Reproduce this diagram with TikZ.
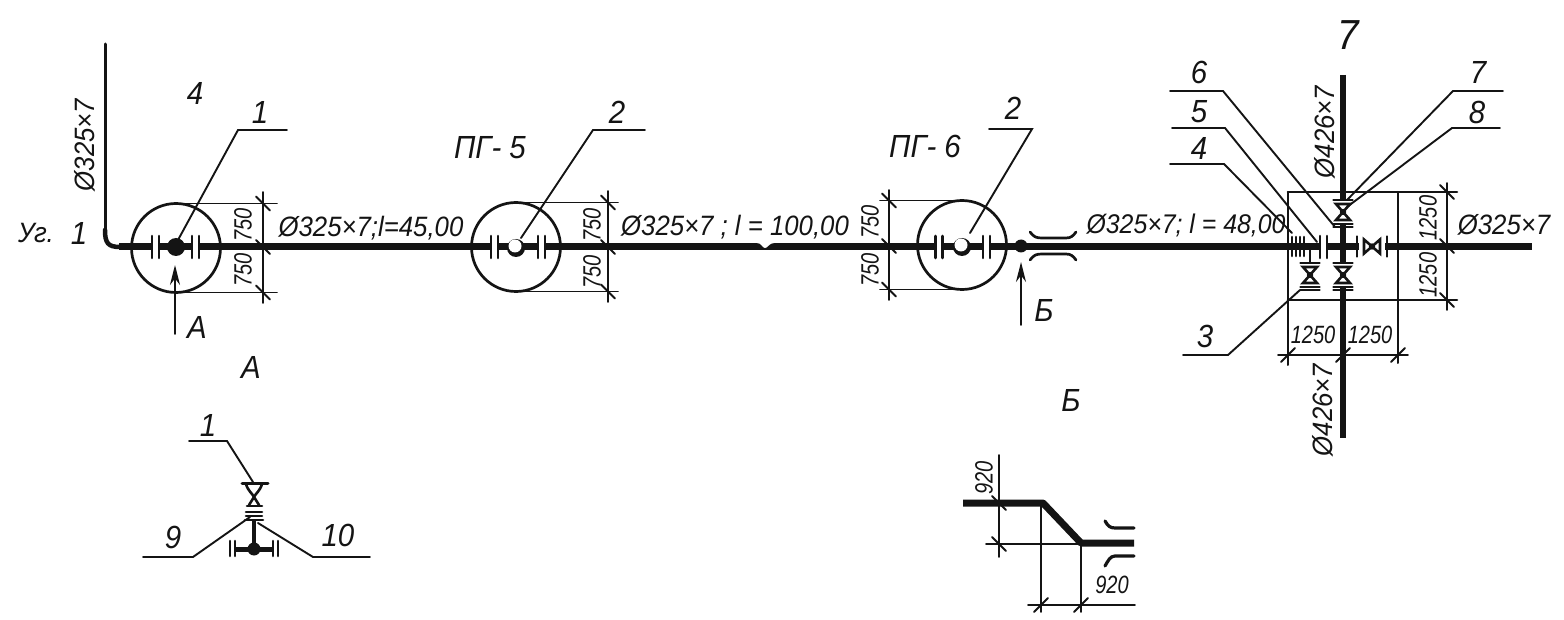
\documentclass[tikz,border=0pt]{standalone}
\usepackage{fontspec}
\setmainfont{Liberation Sans}[FakeStretch=0.92]
\newfontfamily\dimfont{Liberation Sans}[FakeStretch=0.8]
\usetikzlibrary{arrows.meta}
\definecolor{ink}{HTML}{141414}
\tikzset{
  thinln/.style={draw=ink,line width=1.8pt},
  leader/.style={draw=ink,line width=1.9pt,line join=miter},
  ring/.style={draw=ink,line width=2.7pt},
  pipe/.style={draw=ink,line width=7pt},
  barln/.style={draw=ink,line width=2.6pt},
  arrowln/.style={draw=ink,line width=1.8pt,-{Stealth[length=20pt,width=10pt]}},
  lab/.style={font=\fontsize{28}{28}\selectfont\itshape,text=ink,inner sep=0pt},
  seglab/.style={font=\fontsize{27}{27}\selectfont\itshape,text=ink,inner sep=0pt},
  numlab/.style={font=\fontsize{32}{32}\selectfont\itshape,text=ink,inner sep=0pt},
  big/.style={font=\fontsize{42}{42}\selectfont\itshape,text=ink,inner sep=0pt},
  smalllab/.style={font=\dimfont\fontsize{25}{25}\selectfont\itshape,text=ink,inner sep=0pt},
  pics/tickv/.style={code={\draw[thinln] (-7,-7)--(7,7);}},
  pics/tickh/.style={code={\draw[thinln] (-7,7)--(7,-7);}},
  pics/flangeh/.style={code={
    \fill[white] (-3.5,-5)rectangle(3.5,5);
    \draw[barln] (-3.5,-11)--(-3.5,11) (3.5,-11)--(3.5,11);}},
  pics/valvev/.style={code={
    \fill[white] (-9,-12)rectangle(9,12);
    \draw[barln,fill=white] (-7,-8)--(7,-8)--(-7,8)--(7,8)--cycle;
    \fill[ink] (0,0) circle (3.2);
    \draw[barln] (-9.5,-12)--(9.5,-12) (-9.5,12)--(9.5,12) (-9.5,15)--(9.5,15);}},
  pics/valveh/.style={code={
    \fill[white] (-13,-5)rectangle(13,5);
    \draw[barln,fill=white] (-8,-7)--(-8,7)--(8,-7)--(8,7)--cycle;
    \fill[ink] (0,0) circle (3.2);
    \draw[barln] (-15,-10)--(-15,10) (15,-10)--(15,10);}},
}
\begin{document}
\begin{tikzpicture}[x=1pt,y=-1pt,line cap=round]
\useasboundingbox (0,0) rectangle (1564,620);
\fill[white] (0,0) rectangle (1564,620);

% main pipeline
\draw[draw=ink,line width=3pt] (105,44)--(105,230);
\draw[draw=ink,line width=4.5pt] (105,230) .. controls (105,243) and (108,247) .. (120,247);
\draw[pipe,line cap=butt] (119,247)--(1532,247);
\fill[white] (757,243) .. controls (762,243) and (762,248) .. (765,248) .. controls (768,248) and (769,243) .. (774,243) -- cycle;

% circle 1 with dimensions
\draw[ring] (176,248) circle (44.5);
\draw[thinln] (176,203.5)--(277,203.5) (176,292.5)--(277,292.5) (263,192)--(263,303);
\pic at (263,203.5) {tickv}; \pic at (263,247) {tickv}; \pic at (263,292.5) {tickv};
\pic at (155.5,247) {flangeh}; \pic at (195.5,247) {flangeh};
\fill[ink] (176,247) circle (9);
\coordinate (l1a) at (178,240); \coordinate (l1b) at (238,130); \coordinate (l1c) at (287,130);
\draw[leader] (l1a)--(l1b)--(l1c);
\coordinate (arA0) at (175,334); \coordinate (arA1) at (175,265);
\draw[arrowln] (arA0)--(arA1);

% circle 2
\draw[ring] (516,247) circle (44.5);
\draw[thinln] (516,202.5)--(618,202.5) (516,291.5)--(618,291.5) (608,191)--(608,302);
\pic at (608,202.5) {tickv}; \pic at (608,247) {tickv}; \pic at (608,291.5) {tickv};
\pic at (494.5,247) {flangeh}; \pic at (541.5,247) {flangeh};
\fill[ink] (516,248) circle (9);
\fill[white] (515,246) circle (6.5);
\coordinate (l2a) at (521,238); \coordinate (l2b) at (593,130); \coordinate (l2c) at (645,130);
\draw[leader] (l2a)--(l2b)--(l2c);

% circle 3
\draw[ring] (962,245) circle (44.5);
\draw[thinln] (962,200.5)--(880,200.5) (962,289.5)--(880,289.5) (889,190)--(889,300);
\pic at (889,200.5) {tickv}; \pic at (889,246) {tickv}; \pic at (889,289.5) {tickv};
\pic at (939,247) {flangeh}; \pic at (986.5,247) {flangeh};
\fill[ink] (962,247) circle (9);
\fill[white] (961,245) circle (6.5);
\coordinate (l3a) at (970,233); \coordinate (l3b) at (1032,129); \coordinate (l3c) at (989,129);
\draw[leader] (l3a)--(l3b)--(l3c);
\fill[ink] (1021,246) circle (6.5);
\draw[ring] (1030,232) .. controls (1034,237) and (1036,238) .. (1042,238) -- (1066,238) .. controls (1071,238) and (1073,236) .. (1076,232);
\draw[ring] (1030,260) .. controls (1034,255) and (1036,254) .. (1042,254) -- (1066,254) .. controls (1071,254) and (1073,256) .. (1076,260);
\coordinate (arB0) at (1021,325); \coordinate (arB1) at (1021,262);
\draw[arrowln] (arB0)--(arB1);

% node 7: dimensions
\draw[barln] (1288,192)--(1457,192) (1288,300)--(1457,300);
\draw[thinln,line width=2pt] (1288,192)--(1288,365) (1398,192)--(1398,363);
\draw[thinln] (1447,183)--(1447,310) (1278,355)--(1408,355);
\pic at (1447,192) {tickv}; \pic at (1447,246) {tickv}; \pic at (1447,300) {tickv};
\pic at (1288,355) {tickh}; \pic at (1343,355) {tickh}; \pic at (1398,355) {tickh};

% node 7: pipes and valves
\draw[draw=ink,line width=5.7pt,line cap=butt] (1343,75)--(1343,438);
\pic at (1343,212) {valvev};
\pic at (1343,275) {valvev};
\pic at (1372,246.5) {valveh};
\pic at (1323.5,247) {flangeh};
\draw[thinln] (1310,247)--(1310,262);
\pic at (1310,275) {valvev};
\draw[barln] (1292,237)--(1292,256) (1296,237)--(1296,256) (1300,237)--(1300,256) (1304,237)--(1304,256);

% node 7: leaders
\coordinate (l6a) at (1170,91); \coordinate (l6b) at (1223,91); \coordinate (l6c) at (1335,227);
\coordinate (l5a) at (1172,128); \coordinate (l5b) at (1225,128); \coordinate (l5c) at (1317,242);
\coordinate (l4a) at (1170,164); \coordinate (l4b) at (1224,164); \coordinate (l4c) at (1292,233);
\coordinate (l7a) at (1503,91); \coordinate (l7b) at (1453,91); \coordinate (l7c) at (1347,200);
\coordinate (l8a) at (1500,128); \coordinate (l8b) at (1452,128); \coordinate (l8c) at (1347,207);
\coordinate (l3xa) at (1183,355); \coordinate (l3xb) at (1228,355); \coordinate (l3xc) at (1300,290);
\draw[leader] (l6a)--(l6b)--(l6c);
\draw[leader] (l5a)--(l5b)--(l5c);
\draw[leader] (l4a)--(l4b)--(l4c);
\draw[leader] (l7a)--(l7b)--(l7c);
\draw[leader] (l8a)--(l8b)--(l8c);
\draw[leader] (l3xa)--(l3xb)--(l3xc);

% detail A
\draw[draw=ink,line width=3.5pt,line cap=butt] (254,519)--(254,549);
\draw[draw=ink,line width=5pt,line cap=butt] (235,549)--(273,549);
\fill[ink] (254,549) circle (6.5);
\draw[barln] (230,541)--(230,556) (235,541)--(235,556) (273,541)--(273,556) (278,541)--(278,556);
\draw[draw=ink,line width=3pt] (242,483)--(268,483);
\draw[barln] (246,484) .. controls (248,491) and (252,493) .. (254,497) .. controls (256,493) and (260,491) .. (262,484);
\draw[barln] (249,505)--(254,497)--(259,505);
\draw[barln] (247,506)--(262,506) (246,512)--(262,512) (246,516)--(262,516) (245,520)--(263,520);
\coordinate (lAa) at (189,441); \coordinate (lAb) at (227,441); \coordinate (lAc) at (253,482);
\coordinate (l9a) at (143,557); \coordinate (l9b) at (193,557); \coordinate (l9c) at (250,517);
\coordinate (l10a) at (370,557); \coordinate (l10b) at (313,557); \coordinate (l10c) at (258,523);
\draw[leader] (lAa)--(lAb)--(lAc);
\draw[leader] (l9a)--(l9b)--(l9c);
\draw[leader] (l10a)--(l10b)--(l10c);

% detail B
\draw[pipe,line join=round,line cap=butt] (963,503)--(1043,503)--(1081,543)--(1134,543);
\draw[thinln] (999,455)--(999,557) (986,544)--(1081,544) (1041,503)--(1041,612) (1081,543)--(1081,612) (1028,605)--(1135,605);
\pic at (999,503) {tickv}; \pic at (999,544) {tickv};
\pic at (1041,605) {tickh}; \pic at (1081,605) {tickh};
\draw[draw=ink,line width=3.2pt] (1105,521) .. controls (1108,526) and (1110,528) .. (1115,528) -- (1134,528);
\draw[draw=ink,line width=3.2pt] (1105,566) .. controls (1108,561) and (1110,556) .. (1115,556) -- (1134,556);

% texts
\node[lab] (tUg) at (36,233) {Уг.};
\node[numlab] (tOne) at (79,233) {1};
\node[lab,rotate=90] (tPipeV) at (85,145) {Ø325×7};
\node[numlab] (tFour) at (195,93) {4};
\node[numlab] (tL1) at (260,112) {1};
\node[smalllab,rotate=90] (d1a) at (243,225) {750};
\node[smalllab,rotate=90] (d1b) at (243,270) {750};
\node[lab] (tSeg1) at (371,228) {Ø325×7;l=45,00};
\node[numlab] (tA1) at (197,327) {А};
\node[numlab] (tA2) at (251,367) {А};
\node[numlab] (tPG5) at (490,148) {ПГ- 5};
\node[numlab] (tL2) at (617,112) {2};
\node[smalllab,rotate=90] (d2a) at (592,225) {750};
\node[smalllab,rotate=90] (d2b) at (592,272) {750};
\node[lab] (tSeg2) at (735,227) {Ø325×7 ; l = 100,00};
\node[numlab] (tPG6) at (925,146) {ПГ- 6};
\node[numlab] (tL3) at (1013,108) {2};
\node[smalllab,rotate=90] (d3a) at (870,222) {750};
\node[smalllab,rotate=90] (d3b) at (870,270) {750};
\node[numlab] (tB1) at (1044,310) {Б};
\node[numlab] (tB2) at (1071,400) {Б};
\node[seglab] (tSeg3) at (1186,225) {Ø325×7; l = 48,00};
\node[lab] (tEnd) at (1504,225) {Ø325×7};
\node[big] (tSeven) at (1348,35) {7};
\node[numlab] (tN6) at (1199,72) {6};
\node[numlab] (tN5) at (1199,112) {5};
\node[numlab] (tN4) at (1199,148) {4};
\node[numlab] (tN7) at (1478,72) {7};
\node[numlab] (tN8) at (1477,112) {8};
\node[numlab] (tN3) at (1205,336) {3};
\node[lab,rotate=90] (tV1) at (1325,132) {Ø426×7};
\node[lab,rotate=90] (tV2) at (1323,410) {Ø426×7};
\node[smalllab] (d4a) at (1313,335) {1250};
\node[smalllab] (d4b) at (1370,335) {1250};
\node[smalllab,rotate=90] (d4c) at (1428,218) {1250};
\node[smalllab,rotate=90] (d4d) at (1428,275) {1250};
\node[numlab] (tA3) at (208,425) {1};
\node[numlab] (tN9) at (173,537) {9};
\node[numlab] (tN10) at (338,535) {10};
\node[smalllab,rotate=90] (d5a) at (984,478) {920};
\node[smalllab] (d5b) at (1112,585) {920};
\end{tikzpicture}
\end{document}
